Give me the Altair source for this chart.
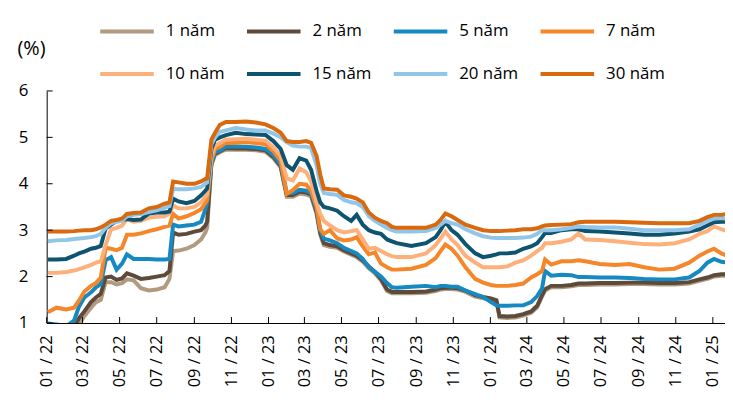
import altair as alt
import pandas as pd

dates = [
    "2022-01-03", "2022-01-17", "2022-02-02", "2022-02-15", "2022-02-23", "2022-03-04",
    "2022-03-15", "2022-03-23", "2022-03-31", "2022-04-08", "2022-04-17", "2022-04-26",
    "2022-05-05", "2022-05-13", "2022-05-24", "2022-06-05", "2022-06-18", "2022-07-01",
    "2022-07-14", "2022-07-22", "2022-07-28", "2022-08-06", "2022-08-19", "2022-09-01",
    "2022-09-12", "2022-09-19", "2022-09-22", "2022-09-29", "2022-10-05", "2022-10-13",
    "2022-10-23", "2022-11-08", "2022-11-25", "2022-12-11", "2022-12-27", "2023-01-09",
    "2023-01-21", "2023-01-31", "2023-02-10", "2023-02-21", "2023-03-04", "2023-03-12",
    "2023-03-21", "2023-03-27", "2023-04-02", "2023-04-12", "2023-04-24", "2023-05-05",
    "2023-05-17", "2023-05-26", "2023-06-05", "2023-06-15", "2023-06-25", "2023-07-05",
    "2023-07-15", "2023-07-23", "2023-07-31", "2023-08-24", "2023-09-17", "2023-10-03",
    "2023-10-11", "2023-10-19", "2023-10-29", "2023-11-08", "2023-11-21", "2023-12-07",
    "2023-12-20", "2024-01-02", "2024-01-11", "2024-01-16", "2024-01-29", "2024-02-11",
    "2024-02-24", "2024-03-08", "2024-03-18", "2024-03-26", "2024-03-31", "2024-04-10",
    "2024-04-27", "2024-05-13", "2024-05-25", "2024-06-05", "2024-06-29", "2024-07-24",
    "2024-08-17", "2024-09-10", "2024-10-05", "2024-10-30", "2024-11-23", "2024-12-10",
    "2024-12-23", "2025-01-03", "2025-01-15", "2025-01-24",
]

y1 = [0.80, 0.76, 0.75, 0.80, 0.95, 1.15, 1.33, 1.45, 1.50, 1.88, 1.88, 1.83,
      1.86, 1.94, 1.92, 1.75, 1.70, 1.72, 1.77, 1.95, 2.55, 2.56, 2.60, 2.68,
      2.80, 2.95, 3.05, 4.40, 4.62, 4.68, 4.74, 4.73, 4.73, 4.72, 4.69, 4.55,
      4.35, 3.72, 3.72, 3.79, 3.77, 3.73, 3.35, 2.90, 2.68, 2.64, 2.62, 2.54,
      2.47, 2.42, 2.32, 2.18, 2.07, 1.92, 1.69, 1.64, 1.64, 1.64, 1.65, 1.69,
      1.72, 1.73, 1.73, 1.72, 1.67, 1.57, 1.53, 1.50, 1.46, 1.12, 1.11, 1.12,
      1.16, 1.22, 1.34, 1.57, 1.70, 1.77, 1.77, 1.79, 1.82, 1.82, 1.83, 1.83,
      1.84, 1.84, 1.83, 1.83, 1.85, 1.91, 1.95, 2.00, 2.02, 2.02]
y2 = [0.85, 0.82, 0.80, 0.90, 1.10, 1.25, 1.45, 1.55, 1.63, 1.98, 2.00, 1.93,
      1.96, 2.07, 2.02, 1.95, 1.97, 2.00, 2.03, 2.12, 2.95, 2.90, 2.92, 2.97,
      3.00, 3.10, 3.18, 4.45, 4.65, 4.70, 4.77, 4.76, 4.76, 4.75, 4.72, 4.58,
      4.38, 3.76, 3.76, 3.83, 3.81, 3.77, 3.40, 2.95, 2.72, 2.68, 2.65, 2.57,
      2.50, 2.45, 2.35, 2.22, 2.10, 1.95, 1.72, 1.67, 1.67, 1.67, 1.68, 1.72,
      1.75, 1.76, 1.76, 1.75, 1.70, 1.60, 1.56, 1.53, 1.49, 1.15, 1.14, 1.15,
      1.19, 1.25, 1.37, 1.60, 1.73, 1.80, 1.80, 1.82, 1.85, 1.85, 1.86, 1.86,
      1.87, 1.87, 1.86, 1.86, 1.88, 1.94, 1.98, 2.03, 2.05, 2.05]
y5 = [0.99, 0.97, 0.93, 1.05, 1.35, 1.55, 1.66, 1.77, 1.84, 2.35, 2.42, 2.15,
      2.28, 2.48, 2.38, 2.38, 2.38, 2.37, 2.37, 2.38, 3.12, 3.08, 3.10, 3.12,
      3.18, 3.45, 3.60, 4.42, 4.68, 4.72, 4.80, 4.80, 4.80, 4.78, 4.75, 4.62,
      4.42, 3.80, 3.80, 3.87, 3.85, 3.80, 3.45, 3.00, 2.82, 2.78, 2.72, 2.62,
      2.55, 2.50, 2.38, 2.20, 2.10, 2.00, 1.86, 1.77, 1.76, 1.78, 1.80, 1.77,
      1.80, 1.80, 1.78, 1.78, 1.70, 1.62, 1.56, 1.45, 1.38, 1.37, 1.37, 1.38,
      1.38, 1.45, 1.58, 1.75, 2.12, 2.02, 2.04, 2.03, 1.99, 1.99, 1.98, 1.98,
      1.97, 1.95, 1.94, 1.94, 1.98, 2.12, 2.30, 2.38, 2.32, 2.30]
y7 = [1.23, 1.33, 1.29, 1.33, 1.48, 1.68, 1.80, 1.86, 1.98, 2.62, 2.60, 2.57,
      2.62, 2.90, 2.90, 2.93, 2.98, 3.02, 3.07, 3.10, 3.35, 3.25, 3.30, 3.37,
      3.45, 3.58, 3.65, 4.50, 4.75, 4.80, 4.88, 4.88, 4.90, 4.88, 4.85, 4.70,
      4.50, 3.78, 3.86, 4.00, 3.98, 3.85, 3.50, 3.02, 2.92, 3.00, 2.82, 2.78,
      2.80, 2.85, 2.65, 2.48, 2.52, 2.28, 2.20, 2.15, 2.15, 2.17, 2.25, 2.40,
      2.55, 2.69, 2.60, 2.45, 2.20, 1.95, 1.87, 1.82, 1.80, 1.80, 1.80, 1.82,
      1.85, 1.98, 2.05, 2.12, 2.37, 2.26, 2.33, 2.33, 2.35, 2.33, 2.27, 2.25,
      2.27, 2.20, 2.15, 2.17, 2.30, 2.45, 2.54, 2.60, 2.50, 2.45]
y10 = [2.08, 2.08, 2.10, 2.13, 2.16, 2.20, 2.25, 2.30, 2.33, 2.68, 3.02, 3.05,
       3.10, 3.24, 3.18, 3.20, 3.27, 3.29, 3.30, 3.36, 3.53, 3.47, 3.47, 3.50,
       3.60, 3.72, 3.78, 4.60, 4.82, 4.88, 4.95, 4.96, 4.97, 4.95, 4.93, 4.78,
       4.60, 4.12, 4.07, 4.33, 4.25, 4.05, 3.60, 3.35, 3.20, 3.10, 3.00, 2.95,
       2.98, 3.00, 2.80, 2.60, 2.62, 2.55, 2.48, 2.44, 2.42, 2.42, 2.50, 2.68,
       2.82, 2.97, 2.80, 2.68, 2.45, 2.30, 2.20, 2.20, 2.20, 2.20, 2.22, 2.30,
       2.35, 2.45, 2.55, 2.62, 2.72, 2.72, 2.75, 2.80, 2.93, 2.80, 2.79, 2.76,
       2.73, 2.70, 2.69, 2.72, 2.80, 2.92, 2.98, 3.08, 3.02, 2.98]
y15 = [2.37, 2.37, 2.38, 2.45, 2.50, 2.54, 2.60, 2.62, 2.66, 3.04, 3.12, 3.20,
       3.22, 3.24, 3.22, 3.23, 3.36, 3.38, 3.38, 3.40, 3.68, 3.62, 3.58, 3.63,
       3.75, 3.85, 3.90, 4.75, 4.95, 5.00, 5.05, 5.10, 5.07, 5.06, 5.05, 4.92,
       4.75, 4.40, 4.30, 4.55, 4.50, 4.30, 3.85, 3.60, 3.50, 3.47, 3.42, 3.30,
       3.20, 3.33, 3.12, 3.00, 2.95, 2.92, 2.80, 2.76, 2.72, 2.66, 2.72, 2.85,
       3.00, 3.18, 3.00, 2.90, 2.70, 2.50, 2.42, 2.45, 2.48, 2.50, 2.50, 2.52,
       2.60, 2.65, 2.72, 2.85, 2.94, 2.94, 3.00, 3.02, 3.02, 2.98, 2.97, 2.95,
       2.93, 2.90, 2.90, 2.93, 2.97, 3.02, 3.10, 3.17, 3.18, 3.18]
y20 = [2.76, 2.78, 2.79, 2.81, 2.82, 2.83, 2.85, 2.87, 2.92, 3.05, 3.15, 3.18,
       3.20, 3.30, 3.33, 3.35, 3.39, 3.43, 3.48, 3.52, 3.90, 3.88, 3.88, 3.90,
       3.93, 4.00, 4.03, 4.85, 5.00, 5.12, 5.15, 5.20, 5.17, 5.15, 5.15, 5.08,
       5.00, 4.90, 4.82, 4.80, 4.80, 4.77, 4.40, 4.00, 3.80, 3.78, 3.76, 3.65,
       3.60, 3.58, 3.50, 3.30, 3.20, 3.12, 3.05, 3.00, 2.97, 2.97, 2.98, 3.05,
       3.12, 3.20, 3.15, 3.12, 3.02, 2.93, 2.87, 2.84, 2.83, 2.83, 2.83, 2.83,
       2.84, 2.86, 2.92, 3.00, 3.00, 3.00, 3.02, 3.05, 3.08, 3.07, 3.06, 3.06,
       3.03, 3.00, 3.00, 3.00, 3.02, 3.12, 3.20, 3.25, 3.26, 3.25]
y30 = [2.97, 2.97, 2.97, 2.98, 2.99, 3.00, 3.00, 3.02, 3.06, 3.12, 3.20, 3.22,
       3.25, 3.35, 3.37, 3.38, 3.47, 3.50, 3.57, 3.60, 4.05, 4.03, 4.00, 4.00,
       4.05, 4.10, 4.12, 4.95, 5.10, 5.27, 5.33, 5.33, 5.34, 5.32, 5.28, 5.20,
       5.10, 4.92, 4.90, 4.90, 4.92, 4.88, 4.60, 4.20, 3.90, 3.88, 3.87, 3.75,
       3.72, 3.68, 3.60, 3.38, 3.27, 3.20, 3.15, 3.07, 3.05, 3.05, 3.05, 3.12,
       3.22, 3.36, 3.30, 3.22, 3.12, 3.05, 3.00, 2.98, 2.98, 2.98, 2.99, 3.00,
       3.02, 3.02, 3.04, 3.08, 3.10, 3.11, 3.12, 3.13, 3.17, 3.18, 3.18, 3.18,
       3.17, 3.16, 3.15, 3.15, 3.15, 3.20, 3.28, 3.33, 3.33, 3.35]

series_names = ["1 năm", "2 năm", "5 năm", "7 năm", "10 năm", "15 năm", "20 năm", "30 năm"]
series_values = [y1, y2, y5, y7, y10, y15, y20, y30]
colors = ["#B09A80", "#5E4A3A", "#1589C2", "#F5862A", "#FDB07A", "#0E5470", "#92C6E8", "#D8690F"]

tick_dates = ["2022-01-01", "2022-03-01", "2022-05-01", "2022-07-01", "2022-09-01", "2022-11-01",
              "2023-01-01", "2023-03-01", "2023-05-01", "2023-07-01", "2023-09-01", "2023-11-01",
              "2024-01-01", "2024-03-01", "2024-05-01", "2024-07-01", "2024-09-01", "2024-11-01",
              "2025-01-01"]
y_ticks = [1, 2, 3, 4, 5, 6]

rows = []
for name, vals in zip(series_names, series_values):
    for d, v in zip(dates, vals):
        rows.append({"date": d, "value": v, "series": name})
df = pd.DataFrame(rows)

W, H = 684, 234
FONT = "Open Sans"

def dt(s):
    y, m, d = (int(p) for p in s.split("-"))
    return alt.DateTime(year=y, month=m, date=d, utc=True)

xscale = alt.Scale(type="utc", domain=[dt("2022-01-01"), dt("2025-01-21")])
yscale = alt.Scale(domain=[1, 6], nice=False, zero=False)

xaxis = alt.Axis(
    values=[dt(s) for s in tick_dates], format="%m / %y", labelAngle=270,
    labelFontSize=16.5, labelColor="black", ticks=False, grid=False, title=None,
    domainColor="black", domainWidth=1, labelPadding=12, labelOverlap=False)
yaxis = alt.Axis(
    values=y_ticks, labelFontSize=17, labelColor="black", ticks=False, grid=False,
    domainColor="black", domainWidth=1, labelPadding=19,
    title="(%)", titleAngle=0, titleX=-30, titleY=-43, titleAlign="left",
    titleBaseline="middle", titleFontSize=20, titleFontWeight="normal", titleColor="black")

lines = alt.Chart(df).mark_line(strokeWidth=4, clip=True).encode(
    x=alt.X("date:T", scale=xscale, axis=xaxis),
    y=alt.Y("value:Q", scale=yscale, axis=yaxis),
    color=alt.Color("series:N", sort=series_names,
                    scale=alt.Scale(domain=series_names, range=colors),
                    legend=alt.Legend(orient="none", legendX=52, legendY=-70, direction="horizontal",
                                      columns=4, symbolType="stroke", symbolSize=2916,
                                      symbolStrokeWidth=4, labelFontSize=17, labelColor="black",
                                      labelOffset=10, columnPadding=20, rowPadding=23,
                                      clipHeight=20, gridAlign="all", title=None, padding=0)),
)

xticks = alt.Chart(pd.DataFrame({"date": tick_dates})).mark_rule(color="black", strokeWidth=1).encode(
    x=alt.X("date:T", scale=xscale, axis=xaxis),
    y=alt.value(H),
    y2=alt.value(H - 6),
)

yticks = alt.Chart(pd.DataFrame({"value": y_ticks})).mark_rule(color="black", strokeWidth=1).encode(
    y=alt.Y("value:Q", scale=yscale, axis=yaxis),
    x=alt.value(0),
    x2=alt.value(6),
)

chart = alt.layer(lines, xticks, yticks).properties(
    width=W, height=H,
    padding={"left": 39, "top": 82, "right": 0, "bottom": 75},
    autosize=alt.AutoSizeParams(type="none"),
).configure(font=FONT).configure_view(stroke=None)

chart.save("out.html", embed_options={"renderer": "svg", "actions": False})
